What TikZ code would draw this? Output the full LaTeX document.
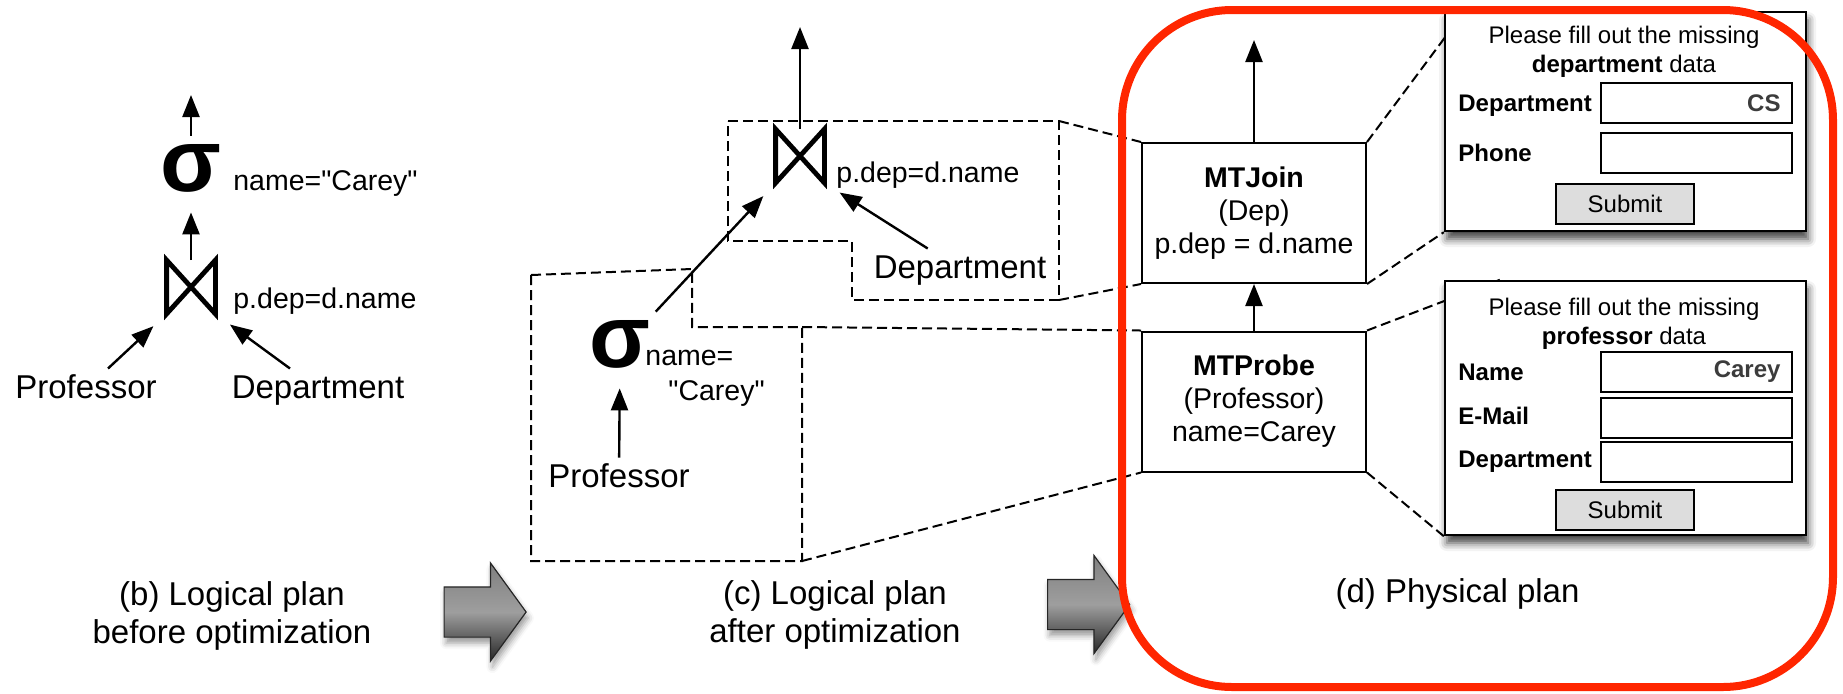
\documentclass[tikz,border=0pt]{standalone}
\usepackage{fontspec}
\setmainfont{Liberation Sans}[Ligatures=TeXOff]
\usetikzlibrary{arrows.meta,shapes.arrows,shadows.blur,backgrounds}

\definecolor{framered}{RGB}{255,38,0}
\definecolor{valuegray}{RGB}{60,60,60}
\definecolor{buttongray}{RGB}{221,221,221}

\tikzset{
  flow/.style={-{Triangle[length=11pt,width=8.5pt]},line width=1.2pt},
  into/.style={flow,shorten >=9pt},
  rel/.style={font=\fontsize{16.5}{19}\selectfont,text height=12.4pt,text depth=3.3pt,inner sep=2.2pt},
  cond/.style={font=\fontsize{14.25}{16.5}\selectfont,inner sep=0pt},
  caption/.style={font=\fontsize{16.5}{19}\selectfont,align=center,inner sep=0pt},
  sigma/.style={font=\fontsize{44.5}{44.5}\selectfont\bfseries,text height=23.1pt,text depth=5.3pt,inner sep=0pt,outer sep=5pt},
  tiebox/.style={minimum width=24pt,minimum height=26.5pt,inner sep=0pt},
  tie/.style={line width=2.4pt},
  zoomline/.style={line width=1pt,dash pattern=on 5pt off 2.5pt},
  opbox/.style={draw,line width=1pt,fill=white,minimum width=112pt,minimum height=70pt,inner sep=0pt,align=center,font=\fontsize{14.25}{16.5}\selectfont},
  formbox/.style={draw,line width=1.2pt,fill=white,minimum width=180.5pt,inner sep=0pt,blur shadow={shadow xshift=1pt,shadow yshift=-4pt,shadow blur radius=4pt,shadow opacity=75}},
  formtext/.style={font=\fontsize{12}{14.2}\selectfont,align=center,inner sep=0pt},
  fieldname/.style={font=\fontsize{12}{14}\selectfont\bfseries,inner sep=0pt,anchor=base west},
  fieldbox/.style={draw,line width=1pt,fill=white,minimum width=95.5pt,minimum height=20pt,inner sep=0pt,text width=84pt,align=right,font=\fontsize{12}{14}\selectfont\bfseries,text=valuegray},
  buttonbox/.style={draw,line width=1pt,fill=buttongray,minimum width=69pt,minimum height=20pt,inner sep=0pt,font=\fontsize{12}{14}\selectfont},
  bigarrow/.style={single arrow,draw=black!85,line width=0.6pt,minimum height=41pt,inner xsep=0pt,inner ysep=12.25pt,single arrow head extend=12pt,single arrow tip angle=108,top color=black!50,bottom color=black!85,middle color=black!38,blur shadow={shadow xshift=1pt,shadow yshift=-3pt,shadow blur radius=3pt,shadow opacity=40}},
  framebox/.style={draw=framered,line width=4pt,rounded corners=55pt,minimum width=355.5pt,minimum height=338.5pt,inner sep=0pt},
}

\begin{document}
\begin{tikzpicture}[x=0.5pt,y=-0.5pt]
\useasboundingbox (0,0) rectangle (1843,693);

\coordinate (outb) at (191,95);
\node[sigma](selb) at (191,174) {σ};
\node[cond,anchor=base west](selbcond) at (233,190) {name="Carey"};
\node[tiebox](joinb) at (191,287) {};
\node[cond,anchor=base west](joinbcond) at (233,308) {p.dep=d.name};
\node[rel](profb) at (86,389) {Professor};
\node[rel](deptb) at (318,389) {Department};
\node[caption,anchor=base](capb) at (232,643) {(b) Logical plan\\before optimization};

\node[bigarrow](stepbc) at (476,612) {};

\coordinate (outc) at (800,27);
\node[tiebox](joinc) at (800,156) {};
\node[cond,anchor=base west](joinccond) at (836,182) {p.dep=d.name};
\node[rel](deptc) at (960,269) {Department};
\node[sigma](selc) at (620,350) {σ};
\node[cond,anchor=base west](selccond) at (645,365) {name=};
\node[cond,anchor=base west](selcvalue) at (668,400) {"Carey"};
\node[rel](profc) at (619,478) {Professor};
\node[caption,anchor=base](capc) at (835,642) {(c) Logical plan\\after optimization};

\coordinate (upne) at (1059,121);
\coordinate (upse) at (1059,300);
\coordinate (lowne) at (802,327);
\coordinate (lowse) at (802,561);

\node[bigarrow](stepcd) at (1079.5,604.5) {};

\coordinate (outd) at (1254,40);
\node[opbox](mtjoin) at (1254,213) {\textbf{MTJoin}\\(Dep)\\p.dep = d.name};
\node[opbox](mtprobe) at (1254,401.5) {\textbf{MTProbe}\\(Professor)\\name=Carey};
\node[caption,anchor=base](capd) at (1457.5,602) {(d) Physical plan};

\node[formbox,minimum height=109.5pt](formdep) at (1625.5,121.5) {};
\node[formtext,anchor=base](askdep) at (1624,72) {Please fill out the missing\\\textbf{department} data};
\node[fieldname](depname) at (1458,111) {Department};
\node[fieldbox](depfield) at (1696.5,103) {CS};
\node[fieldname](phonename) at (1458,161) {Phone};
\node[fieldbox](phonefield) at (1696.5,153) {};
\node[buttonbox](depsubmit) at (1625,204) {Submit};

\node[formbox,minimum height=127pt](formprof) at (1625.5,408) {};
\node[formtext,anchor=base](askprof) at (1624,344) {Please fill out the missing\\\textbf{professor} data};
\node[fieldname](namename) at (1458,380) {Name};
\node[fieldbox](namefield) at (1696.5,371.5) {Carey};
\node[fieldname](mailname) at (1458,424) {E-Mail};
\node[fieldbox](mailfield) at (1696.5,417.5) {};
\node[fieldname](pdepname) at (1458,467) {Department};
\node[fieldbox](pdepfield) at (1696.5,461.5) {};
\node[buttonbox](profsubmit) at (1625,509.5) {Submit};

\draw[tie] (joinb.north west) -- (joinb.south east) -- (joinb.north east) -- (joinb.south west) -- cycle;
\draw[tie] (joinc.north west) -- (joinc.south east) -- (joinc.north east) -- (joinc.south west) -- cycle;

\draw[flow] (selb) to (outb);
\draw[flow] (joinb) to (selb);
\draw[into] (profb) to (joinb.south west);
\draw[into] (deptb) to (joinb.south east);

\draw[flow] (joinc) to (outc);
\draw[into] (selc) to (joinc.south west);
\draw[into] (deptc) to (joinc.south east);
\draw[flow] (profc) to (selc);

\draw[flow] (mtjoin) to (outd);
\draw[flow] (mtprobe) to (mtjoin);

\begin{pgfonlayer}{background}
\draw[zoomline] (728,121) -- (upne) -- (upse) -- (852,300) -- (852,241) -- (728,241) -- cycle;
\draw[zoomline] (531,275) -- (692,269) -- (692,327) -- (lowne) -- (lowse) -- (531,561) -- cycle;
\draw[zoomline] (upne) to (mtjoin.north west);
\draw[zoomline] (upse) to (mtjoin.south west);
\draw[zoomline] (lowne) to (mtprobe.north west);
\draw[zoomline] (lowse) to (mtprobe.south west);
\draw[zoomline] (mtjoin.north east) to ([xshift=10.5pt]formdep.north west);
\draw[zoomline] (mtjoin.south east) to (formdep.south west);
\draw[zoomline] (mtprobe.north east) to ([xshift=28pt]formprof.north west);
\draw[zoomline] (mtprobe.south east) to (formprof.south west);
\end{pgfonlayer}

\node[framebox](physframe) at (1477.5,348.5) {};

\end{tikzpicture}
\end{document}
